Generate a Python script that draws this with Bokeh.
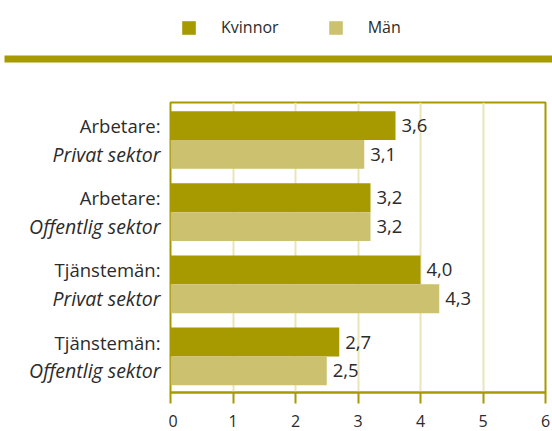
from bokeh.plotting import figure
from bokeh.layouts import column, row
from bokeh.models import (ColumnDataSource, Range1d, LabelSet, Legend, LegendItem,
                          BoxAnnotation, FixedTicker)
from bokeh.core.properties import value
from bokeh.embed import file_html
from bokeh.resources import INLINE

# ---- data ----
group_line1 = ["Arbetare:", "Arbetare:", "Tjänstemän:", "Tjänstemän:"]
group_line2 = ["Privat sektor", "Offentlig sektor", "Privat sektor", "Offentlig sektor"]
kvinnor = [3.6, 3.2, 4.0, 2.7]
man = [3.1, 3.2, 4.3, 2.5]
x_ticks = [0, 1, 2, 3, 4, 5, 6]
series_names = ["Kvinnor", "Män"]

# ---- style ----
DARK = "#a69a00"
LIGHT = "#cbc16e"
GRID = "#ebe4b8"
TEXT = "#2b2b2b"
FONT = "Open Sans"

def fmt(v):
    return f"{v:.1f}".replace(".", ",")

idx = list(range(len(kvinnor)))
src_k = ColumnDataSource(dict(y=[i - 0.2 for i in idx], x=kvinnor,
                              lab=[fmt(v) for v in kvinnor], cat=group_line1))
src_m = ColumnDataSource(dict(y=[i + 0.2 for i in idx], x=man,
                              lab=[fmt(v) for v in man], cat=group_line2))

y_range = Range1d(3.5, -0.52)
ROW_H = 331

# ---- main chart ----
p = figure(width=384, height=ROW_H, output_backend="svg", toolbar_location=None,
           x_range=Range1d(0, 6), y_range=y_range, y_axis_location=None,
           min_border_left=2, min_border_right=7, min_border_top=2, min_border_bottom=39)
p.outline_line_color = DARK
p.outline_line_width = 2

r_k = p.hbar(y="y", right="x", left=0, height=0.4, source=src_k,
             fill_color=DARK, line_color=None)
r_m = p.hbar(y="y", right="x", left=0, height=0.4, source=src_m,
             fill_color=LIGHT, line_color=None)

xa = p.xaxis[0]
xa.ticker = FixedTicker(ticks=x_ticks)
xa.axis_line_color = DARK
xa.axis_line_width = 2
xa.major_tick_line_color = DARK
xa.major_tick_line_width = 2
xa.major_tick_out = 11
xa.major_tick_in = 0
xa.minor_tick_line_color = None
xa.major_label_standoff = 11
xa.major_label_text_font = FONT
xa.major_label_text_font_size = "16px"
xa.major_label_text_color = TEXT

p.xgrid.ticker = FixedTicker(ticks=x_ticks[1:-1])
p.xgrid.grid_line_color = GRID
p.xgrid.grid_line_width = 2
p.ygrid.visible = False

for src in (src_k, src_m):
    p.add_layout(LabelSet(x="x", y="y", text="lab", source=src, x_offset=6,
                          text_align="left", text_baseline="middle",
                          text_font=value(FONT), text_font_size="18.5px", text_color=TEXT))

# ---- category label panel ----
lf = figure(width=168, height=ROW_H, output_backend="svg", toolbar_location=None,
            x_range=Range1d(0, 168), y_range=y_range,
            x_axis_location=None, y_axis_location=None,
            min_border_left=0, min_border_right=0, min_border_top=2, min_border_bottom=39)
lf.outline_line_color = None
lf.grid.visible = False
lf.text(x=160, y="y", text="cat", source=src_k, text_align="right", text_baseline="middle",
        text_font=value(FONT), text_font_size="18.5px", text_color=TEXT)
lf.text(x=160, y="y", text="cat", source=src_m, text_align="right", text_baseline="middle",
        text_font=value(FONT), text_font_size="19.5px", text_color=TEXT,
        text_font_style="italic")

# ---- top legend panel ----
tf = figure(width=552, height=100, output_backend="svg", toolbar_location=None,
            x_range=Range1d(0, 552), y_range=Range1d(0, 100),
            x_axis_location=None, y_axis_location=None,
            min_border=0)
tf.outline_line_color = None
tf.grid.visible = False
# legend renderers live on their own (off-screen) ranges so only their swatches show
tf.extra_x_ranges = {"legx": Range1d(100, 200)}
tf.extra_y_ranges = {"legy": Range1d(100, 200)}
lk = tf.hbar(y="y", right="x", left=0, height=0.4, source=src_k,
             x_range_name="legx", y_range_name="legy",
             fill_color=DARK, line_color=None)
lm = tf.hbar(y="y", right="x", left=0, height=0.4, source=src_m,
             x_range_name="legx", y_range_name="legy",
             fill_color=LIGHT, line_color=None)
legend = Legend(items=[LegendItem(label=series_names[0], renderers=[lk]),
                       LegendItem(label=series_names[1], renderers=[lm])],
                orientation="horizontal", location=(180, 62),
                glyph_width=17, glyph_height=17, label_standoff=24, spacing=48,
                padding=0, margin=0, border_line_color=None, background_fill_alpha=0,
                label_text_font=FONT, label_text_font_size="16px",
                label_height=17, label_text_color=TEXT)
tf.add_layout(legend, "center")
tf.add_layout(BoxAnnotation(left=4, right=552, bottom=38, top=45,
                            fill_color=DARK, fill_alpha=1, line_color=None))

layout = column(tf, row(lf, p))
open("out.html", "w").write(file_html(layout, INLINE))
